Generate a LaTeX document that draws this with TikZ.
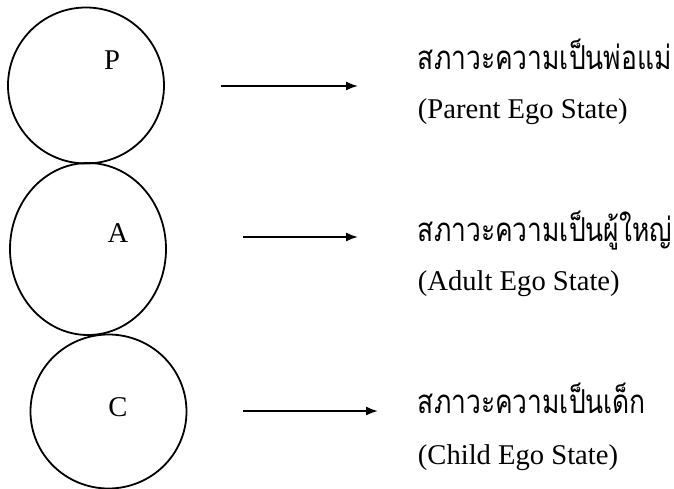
\documentclass[tikz,border=0pt]{standalone}
\usepackage{fontspec}
\setmainfont{Liberation Serif}
\newfontfamily\thaifont[Script=Thai,FakeStretch=0.8]{Loma}
\usetikzlibrary{shapes.geometric,arrows.meta}

\begin{document}
\begin{tikzpicture}[x=1pt,y=1pt,line width=1.8pt,
  every node/.style={inner sep=0pt,font=\fontsize{28.6}{32}\selectfont},
  egobox/.style={draw,ellipse,minimum width=156pt},
  thline/.style={anchor=base west,font=\thaifont\fontsize{33}{36}\selectfont},
  enline/.style={anchor=base west}]
\useasboundingbox (0,0) rectangle (674,-489);
% ego state circles
\node[egobox,minimum height=156pt] (pc) at (86,-85.5) {};
\node[egobox,minimum height=172pt] (ac) at (88,-249) {};
\node[egobox,minimum height=154pt] (cc) at (108.5,-411.5) {};
\node (pl) at (112,-60) {P};
\node (al) at (118,-233) {A};
\node (cl) at (118,-407) {C};
% arrows
\foreach \n/\xa/\xb/\y in {p/221/358/86,a/243/358/237,c/243/378/411}{
  \coordinate (\n s) at (\xa,-\y);
  \coordinate (\n e) at (\xb,-\y);
  \draw[-{Latex[length=12pt,width=9pt]}] (\n s) -- (\n e);
}
% state names
\node[thline] (pt) at (417,-70) {สภาวะความเป็นพ่อแม่};
\node[enline] (pe) at (417,-119) {(Parent Ego State)};
\node[thline] (at) at (417,-241) {สภาวะความเป็นผู้ใหญ่};
\node[enline] (ae) at (417,-290) {(Adult Ego State)};
\node[thline] (ct) at (417,-413) {สภาวะความเป็นเด็ก};
\node[enline] (ce) at (417,-464) {(Child Ego State)};
\end{tikzpicture}
\end{document}
